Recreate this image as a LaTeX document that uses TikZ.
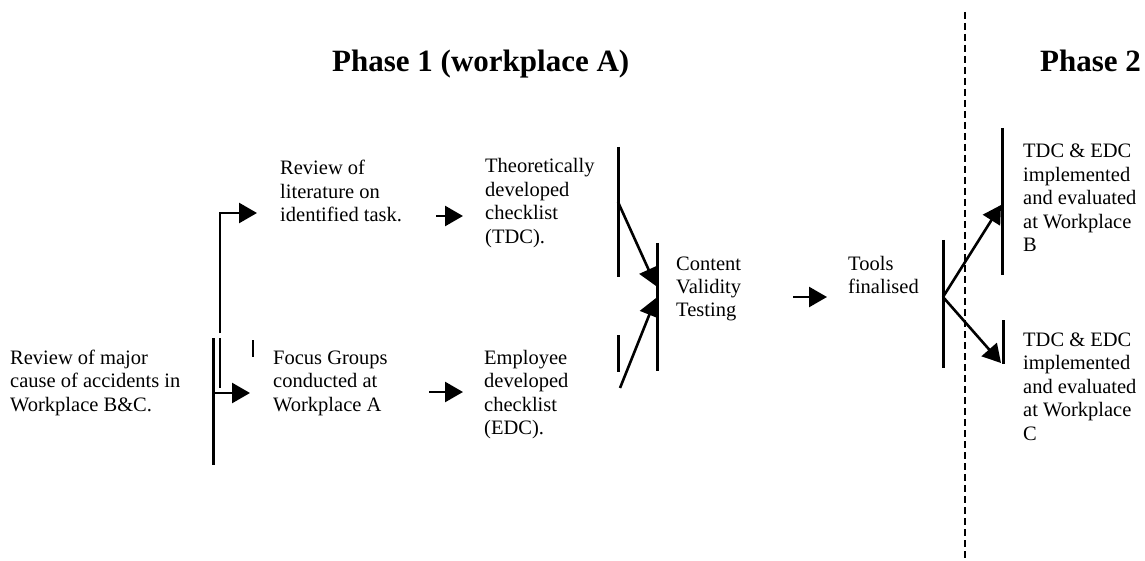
\documentclass[tikz,border=0pt]{standalone}
\usepackage{fontspec}
\setmainfont{Liberation Serif}
\usetikzlibrary{arrows.meta}
\newcommand\mlines[1]{\begin{tabular}[t]{@{}l@{}}#1\end{tabular}}
\begin{document}
\begin{tikzpicture}[x=1pt,y=-1pt,
  txt/.style={anchor=base west, inner sep=0pt, font=\fontsize{20.5}{23.5}\selectfont},
  ttl/.style={anchor=base west, inner sep=0pt, font=\fontsize{31}{36}\selectfont\bfseries},
  bar/.style={line width=3pt},
  thinbar/.style={line width=2pt},
  arr/.style={line width=2.6pt, -{Triangle[length=18pt,width=20pt]}},
  divider/.style={line width=1.6pt, dash pattern=on 7pt off 4pt}]
\useasboundingbox (0,0) rectangle (1145,561);

% titles
\node[ttl] (t1) at (332,72) {Phase 1 (workplace A)};
\node[ttl] (t2) at (1040,72) {Phase 2};

% texts
\node[txt] (rev) at (10,364) {\mlines{Review of major\\cause of accidents in\\Workplace B\&C.}};
\node[txt] (lit) at (280,175) {\mlines{Review of\\literature on\\identified task.}};
\node[txt] (foc) at (273,364) {\mlines{Focus Groups\\conducted at\\Workplace A}};
\node[txt] (tdc) at (485,173) {\mlines{Theoretically\\developed\\checklist\\(TDC).}};
\node[txt] (edc) at (484,364) {\mlines{Employee\\developed\\checklist\\(EDC).}};
\node[txt] (cvt) at (676,270) {\mlines{Content\\Validity\\Testing}};
\node[txt] (tools) at (848,270) {\mlines{Tools\\finalised}};
\node[txt] (wb) at (1023,158) {\mlines{TDC \& EDC\\implemented\\and evaluated\\at Workplace\\B}};
\node[txt] (wc) at (1023,346) {\mlines{TDC \& EDC\\implemented\\and evaluated\\at Workplace\\C}};

% bracket coordinates
\coordinate (b1top) at (213,338);  \coordinate (b1bot) at (213,465);
\coordinate (b1arr) at (213,393);
\coordinate (in1) at (220,338);    \coordinate (in2) at (220,388);
\coordinate (up1) at (220,333);    \coordinate (up2) at (220,213);
\coordinate (tk1) at (253,340);    \coordinate (tk2) at (253,357);
\coordinate (litin) at (257,213);
\coordinate (focin) at (250,393);
\coordinate (a1s) at (436,216);    \coordinate (a1e) at (463,216);
\coordinate (a2s) at (429,392);    \coordinate (a2e) at (463,392);
\coordinate (b2top) at (618,147);  \coordinate (b2bot) at (618,277);
\coordinate (b2out) at (618,202);
\coordinate (b3top) at (618,335);  \coordinate (b3bot) at (618,372);
\coordinate (b3out) at (620,388);
\coordinate (b4top) at (657,243);  \coordinate (b4bot) at (657,371);
\coordinate (b4in1) at (656,286);  \coordinate (b4in2) at (656,298);
\coordinate (a3s) at (793,297);    \coordinate (a3e) at (827,297);
\coordinate (b5top) at (943,240);  \coordinate (b5bot) at (943,368);
\coordinate (b5out) at (943,297);
\coordinate (b6top) at (1002,128); \coordinate (b6bot) at (1002,275);
\coordinate (b6in) at (1001,205);
\coordinate (b7top) at (1003,320); \coordinate (b7bot) at (1003,364);
\coordinate (b7in) at (1001,363);
\coordinate (d1) at (965,12);      \coordinate (d2) at (965,561);

% brackets
\draw[bar] (b1top) -- (b1bot);
\draw[thinbar] (in1) -- (in2);
\draw[thinbar] (tk1) -- (tk2);
\draw[bar] (b2top) -- (b2bot);
\draw[bar] (b3top) -- (b3bot);
\draw[bar] (b4top) -- (b4bot);
\draw[bar] (b5top) -- (b5bot);
\draw[bar] (b6top) -- (b6bot);
\draw[bar] (b7top) -- (b7bot);

% connectors
\draw[arr] (up1) -- (up2) -- (litin);
\draw[arr] (b1arr) -- (focin);
\draw[arr] (a1s) -- (a1e);
\draw[arr] (a2s) -- (a2e);
\draw[arr] (b2out) -- (b4in1);
\draw[arr] (b3out) -- (b4in2);
\draw[arr] (a3s) -- (a3e);
\draw[arr] (b5out) -- (b6in);
\draw[arr] (b5out) -- (b7in);

% phase divider
\draw[divider] (d1) -- (d2);
\end{tikzpicture}
\end{document}
